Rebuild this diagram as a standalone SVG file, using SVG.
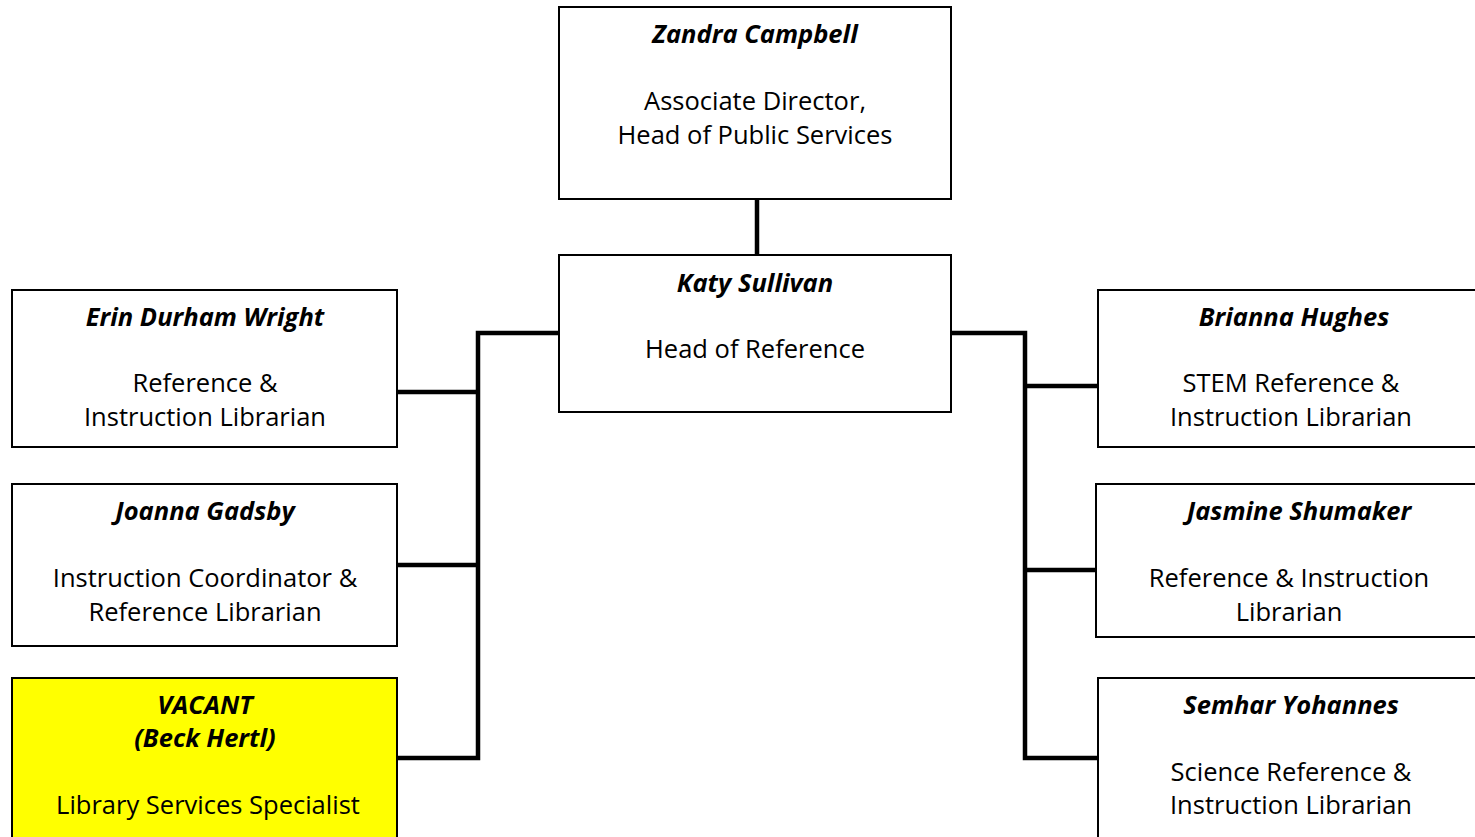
<svg xmlns="http://www.w3.org/2000/svg" width="1475" height="837" viewBox="0 0 1475 837">
<style>
.box{fill:#fff;stroke:#000;stroke-width:2}
.vac{fill:#ffff00;stroke:#000;stroke-width:2}
.conn{fill:none;stroke:#000;stroke-width:4.5}
text{font-family:"Open Sans","Noto Sans","Liberation Sans",sans-serif;font-size:25.5px;fill:#000;text-anchor:middle}
.n{font-weight:bold;font-style:italic}
</style>
<rect width="1475" height="837" fill="#fff"/>
<g id="connectors">
<line class="conn" x1="757" y1="199" x2="757" y2="255"/>
<polyline class="conn" points="559,333 478,333 478,758 397,758"/>
<line class="conn" x1="397" y1="392" x2="478" y2="392"/>
<line class="conn" x1="397" y1="565" x2="478" y2="565"/>
<polyline class="conn" points="951,333 1025,333 1025,758 1098,758"/>
<line class="conn" x1="1025" y1="386" x2="1098" y2="386"/>
<line class="conn" x1="1025" y1="570" x2="1096" y2="570"/>
</g>
<g id="zandra">
<rect class="box" x="559" y="7" width="392" height="192"/>
<text class="n" x="755" y="43">Zandra Campbell</text>
<text x="755" y="110">Associate Director,</text>
<text x="755" y="144">Head of Public Services</text>
</g>
<g id="katy">
<rect class="box" x="559" y="255" width="392" height="157"/>
<text class="n" x="755" y="292">Katy Sullivan</text>
<text x="755" y="358">Head of Reference</text>
</g>
<g id="erin">
<rect class="box" x="12" y="290" width="385" height="157"/>
<text class="n" x="205" y="326">Erin Durham Wright</text>
<text x="205" y="392">Reference &amp;</text>
<text x="205" y="426">Instruction Librarian</text>
</g>
<g id="joanna">
<rect class="box" x="12" y="484" width="385" height="162"/>
<text class="n" x="205" y="520">Joanna Gadsby</text>
<text x="205" y="587">Instruction Coordinator &amp;</text>
<text x="205" y="621">Reference Librarian</text>
</g>
<g id="vacant">
<rect class="vac" x="12" y="678" width="385" height="170"/>
<text class="n" x="205" y="714">VACANT</text>
<text class="n" x="205" y="747">(Beck Hertl)</text>
<text x="208" y="814">Library Services Specialist</text>
</g>
<g id="brianna">
<rect class="box" x="1098" y="290" width="390" height="157"/>
<text class="n" x="1294" y="326">Brianna Hughes</text>
<text x="1291" y="392">STEM Reference &amp;</text>
<text x="1291" y="426">Instruction Librarian</text>
</g>
<g id="jasmine">
<rect class="box" x="1096" y="484" width="392" height="153"/>
<text class="n" x="1299" y="520">Jasmine Shumaker</text>
<text x="1289" y="587">Reference &amp; Instruction</text>
<text x="1289" y="621">Librarian</text>
</g>
<g id="semhar">
<rect class="box" x="1098" y="678" width="390" height="170"/>
<text class="n" x="1291" y="714">Semhar Yohannes</text>
<text x="1291" y="781">Science Reference &amp;</text>
<text x="1291" y="814">Instruction Librarian</text>
</g>
</svg>
